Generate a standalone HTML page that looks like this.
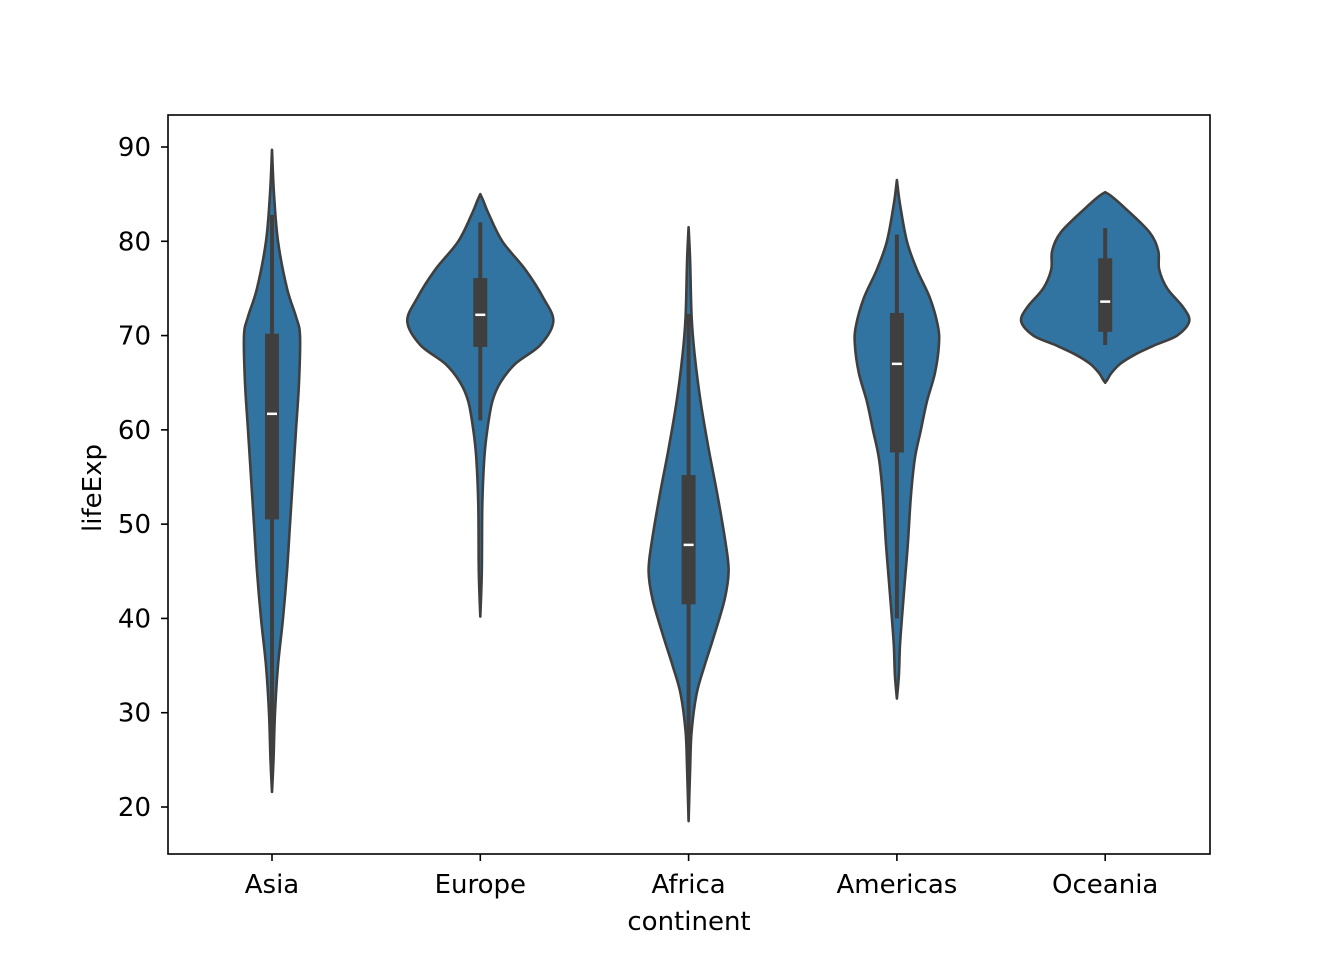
<!DOCTYPE html>
<html><head><meta charset="utf-8"><style>
html,body{margin:0;padding:0;background:#fff;}
svg{display:block;font-family:"DejaVu Sans","Liberation Sans",sans-serif;}
</style></head><body>
<svg id="chart" width="1344" height="960" viewBox="0 0 1344 960">
<rect width="1344" height="960" fill="#fff"/>
<g id="violins"></g>
<rect x="168" y="115" width="1042" height="739" fill="none" stroke="#000" stroke-width="1.6"/>
<g id="yticks"></g>
<g id="xticks"></g>
<text x="689" y="930" text-anchor="middle" font-size="26">continent</text>
<text transform="translate(101,488) rotate(-90)" text-anchor="middle" font-size="26">lifeExp</text>
</svg>
<script>
const categories = ["Asia","Europe","Africa","Americas","Oceania"];
const yTicks = [20,30,40,50,60,70,80,90];
const profVals = [
 [89.7,85,80,75,72,70,65,60,55,50,45,40,35,30,25,21.6],
 [85,84.3,83,80,77,74,71.5,69,67,65,63,60,57,52,45,40.2],
 [81.5,78,72,68,63,58,53,48,45,42,38,35,32,28,24,18.5],
 [86.5,84,80,77,74,71,69,66,63,60,57,53,48,44,40,37,34,31.5],
 [85.2,84.8,83.5,81,79,77,75,73,71.5,70,69,68,67,66,65.3,65]
];
const profWidths = [
 [0,2,6,15,24,28,27,24,21,18,15,11,6,3,1.5,0],
 [0,3,8,22,45,63,73,60,35,20,12,7,4,2,1.5,0],
 [0,1.5,3,6,12,20,29,37,40,36,25,16,8,3,1.5,0],
 [0,3,10,20,33,41,42,38,30,24,18,14,11,8,5,3,2,0],
 [0,6,20,44,53,54,62,78,84,72,50,30,15,6,2,0]
];
const q1 = [50.5,68.8,41.5,57.6,70.4];
const q3 = [70.2,76.1,55.2,72.4,78.2];
const medians = [61.7,72.2,47.8,67.0,73.6];
const whiskLo = [23,61,23,40,69];
const whiskHi = [82.8,82,72.3,80.7,81.4];

const NS="http://www.w3.org/2000/svg";
const yS = v => 807 - (v-20)*9.4286;
const xS = i => 272 + i*208.3;
function mk(tag, attrs, parent){const e=document.createElementNS(NS,tag);for(const k in attrs)e.setAttribute(k,attrs[k]);parent.appendChild(e);return e;}
function spline(pts){
 let d="M"+pts[0][0]+","+pts[0][1];
 for(let i=0;i<pts.length-1;i++){
  const p0=pts[Math.max(0,i-1)],p1=pts[i],p2=pts[i+1],p3=pts[Math.min(pts.length-1,i+2)];
  const c1=[p1[0]+(p2[0]-p0[0])/6,p1[1]+(p2[1]-p0[1])/6];
  const c2=[p2[0]-(p3[0]-p1[0])/6,p2[1]-(p3[1]-p1[1])/6];
  d+=" C"+c1[0]+","+c1[1]+" "+c2[0]+","+c2[1]+" "+p2[0]+","+p2[1];
 }
 return d;
}
const gv=document.getElementById("violins");
const gx=document.getElementById("xticks");
categories.forEach((c,i)=>{
 const cx=xS(i);
 const right=profVals[i].map((v,j)=>[cx+profWidths[i][j],yS(v)]);
 const left=profVals[i].map((v,j)=>[cx-profWidths[i][j],yS(v)]).reverse();
 const d=spline(right)+" "+spline(left).replace(/^M/,"L")+" Z";
 const p=mk("path",{d:d,fill:"#3274a1",stroke:"#3f3f3f","stroke-width":2.6,"stroke-linejoin":"round"},gv);
 
 
 const w=mk("line",{x1:cx,x2:cx,y1:yS(whiskHi[i]),y2:yS(whiskLo[i]),stroke:"#3f3f3f","stroke-width":4},gv);
 
 
 const b=mk("rect",{x:cx-7,y:yS(q3[i]),width:14,height:yS(q1[i])-yS(q3[i]),fill:"#3f3f3f"},gv);
 
 
 const m=mk("line",{x1:cx-5,x2:cx+5,y1:yS(medians[i]),y2:yS(medians[i]),stroke:"#fff","stroke-width":2.5},gv);
 
 
 const t=mk("line",{x1:cx,x2:cx,y1:854,y2:861,stroke:"#000","stroke-width":1.6},gx);
 
 
 const tl=mk("text",{x:cx,y:893,"text-anchor":"middle","font-size":26},gx);
 tl.textContent=c;
 
 
});
const gy=document.getElementById("yticks");
yTicks.forEach(v=>{
 const t=mk("line",{x1:161,x2:168,y1:yS(v),y2:yS(v),stroke:"#000","stroke-width":1.6},gy);
 
 
 const tl=mk("text",{x:151,y:yS(v)+9,"text-anchor":"end","font-size":26},gy);
 tl.textContent=v;
 
 
});
</script>
</body></html>
